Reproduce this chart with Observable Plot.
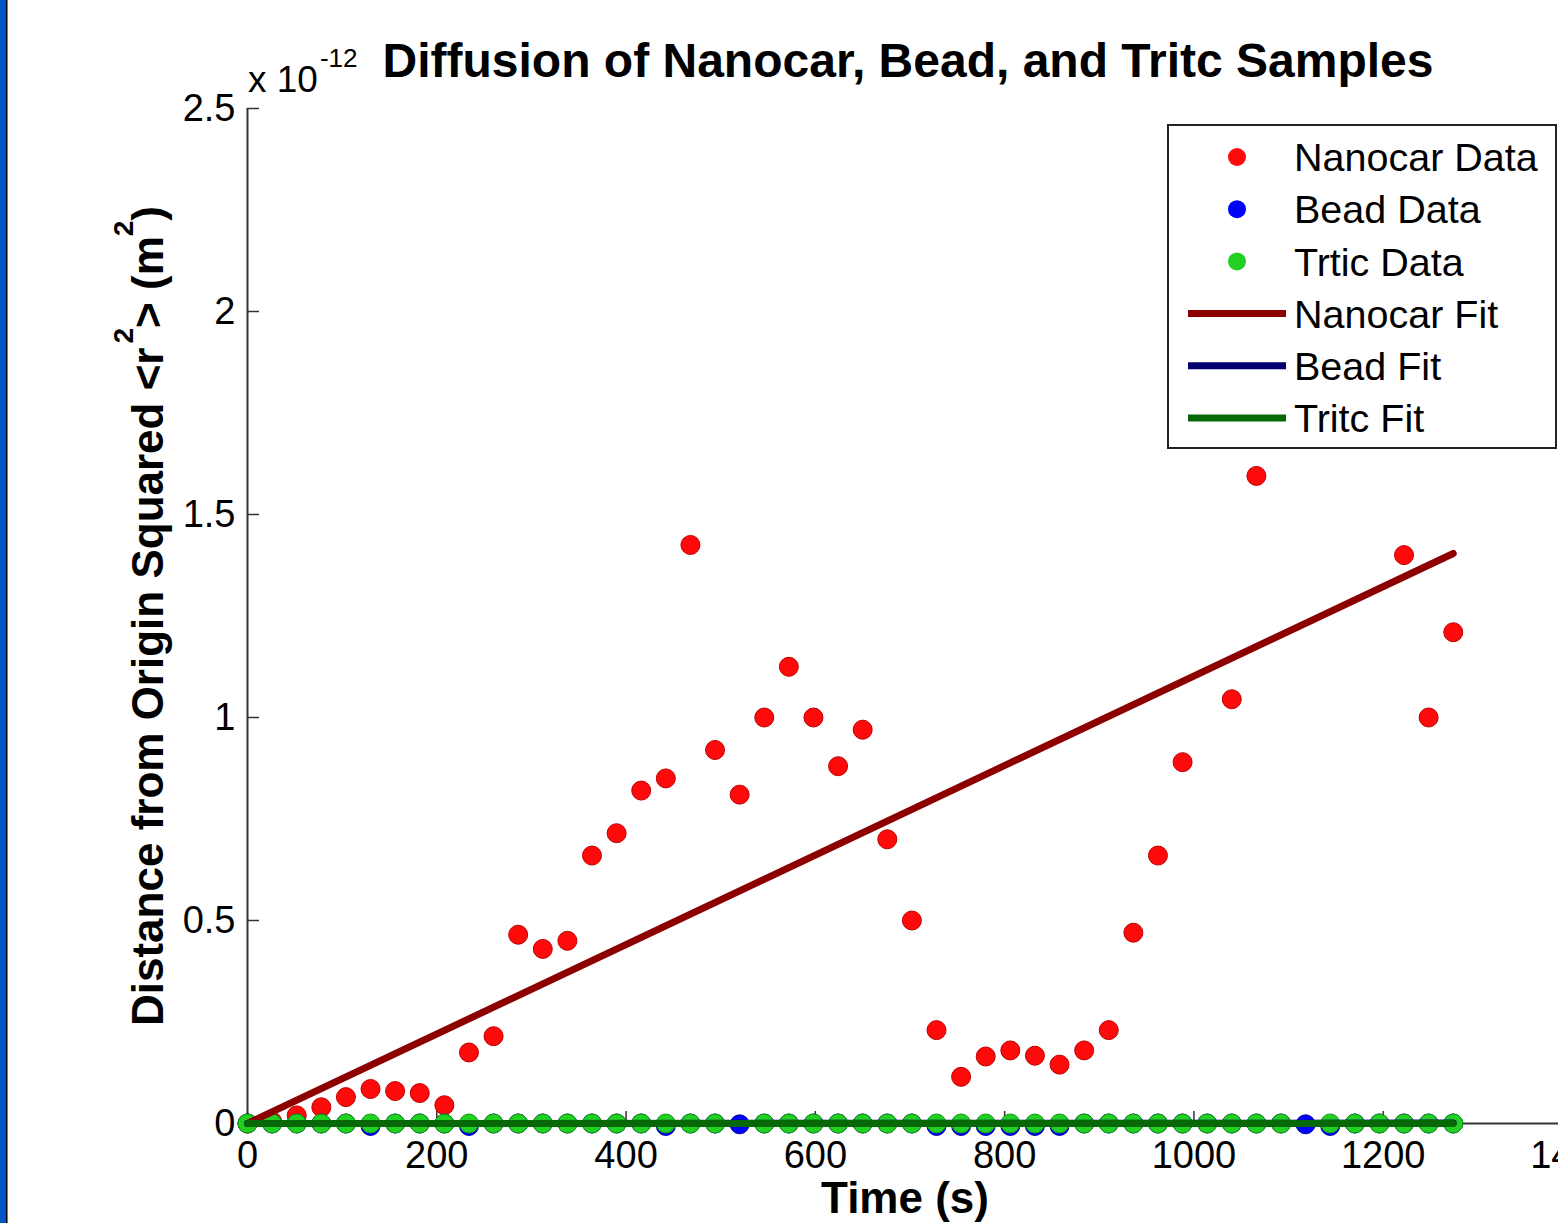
<!DOCTYPE html>
<html><head><meta charset="utf-8">
<script src="https://cdn.jsdelivr.net/npm/d3@7"></script>
<script src="https://cdn.jsdelivr.net/npm/@observablehq/plot@0.6"></script>
<style>
html,body{margin:0;padding:0;background:#fff;overflow:hidden;}
#chart svg{display:block;overflow:hidden;max-width:none;}
</style></head><body><div id="chart"></div>
<script>
// Time (s)
const times = [0,26,52,78,104,130,156,182,208,234,260,286,312,338,364,390,416,442,468,494,520,546,572,598,624,650,676,702,728,754,780,806,832,858,884,910,936,962,988,1014,1040,1066,1092,1118,1144,1170,1196,1222,1248,1274];
// <r^2> in units of 1e-12 m^2
const nanocarData = [0,0.005,0.02,0.04,0.065,0.085,0.08,0.075,0.045,0.175,0.215,0.465,0.43,0.45,0.66,0.715,0.82,0.85,1.425,0.92,0.81,1.0,1.125,1.0,0.88,0.97,0.70,0.50,0.23,0.115,0.165,0.18,0.167,0.145,0.18,0.23,0.47,0.66,0.89,1.9,1.045,1.595,2.1,2.3,2.0,1.8,2.2,1.40,1.0,1.21];
const beadData = [0,0,0,0,0,-0.006,0,0,0,-0.006,0,0,0,0,0,0,0,-0.006,0,0,-0.002,0,0,0,0,0,0,0,-0.006,-0.006,-0.006,-0.006,-0.006,-0.006,0,0,0,0,0,0,0,0,0,-0.002,-0.006,0,0,0,0,0];
const tritcData = [0,0,0,0,0,0,0,0,0,0,0,0,0,0,0,0,0,0,0,0,null,0,0,0,0,0,0,0,0,0,0,0,0,0,0,0,0,0,0,0,0,0,0,null,0,0,0,0,0,0];
const fitTimes = [0, 1274];
const nanocarFit = [0, 1.404];
const beadFit = [0, 0.001];
const tritcFit = [0, 0];
const xTicks = [0,200,400,600,800,1000,1200,1400];
const yTicks = [0,0.5,1,1.5,2,2.5];
const legendNames = ["Nanocar Data","Bead Data","Trtic Data","Nanocar Fit","Bead Fit","Tritc Fit"];
const legendKinds = ["dot","dot","dot","line","line","line"];
const colors = {nanocarDot:"#ff0a0a", beadDot:"#0000ff", tritcDot:"#22d022", nanocarFit:"#8c0000", beadFit:"#00006e", tritcFit:"#066806"};
const legendColors = [colors.nanocarDot, colors.beadDot, colors.tritcDot, colors.nanocarFit, colors.beadFit, colors.tritcFit];

const toRows = vals => times.map((t,i)=>({t, v: vals[i]})).filter(d=>d.v!=null);
const fitRows = vals => fitTimes.map((t,i)=>({t, v: vals[i]}));

const W=1558, H=1223, ML=247, MT=108, MB=100, MR=0;
const frameW = W-ML-MR, frameH = H-MT-MB;
const font = "'Liberation Sans', Arial, Helvetica, sans-serif";

const plot = Plot.plot({
  width: W, height: H, marginLeft: ML, marginTop: MT, marginBottom: MB, marginRight: MR,
  style: {fontFamily: font, fontSize: "38px", color: "#000", background: "transparent", overflow: "hidden"},
  x: {domain: [0,1400], range: [ML, 1572]},
  y: {domain: [0,2.5]},
  marks: [
    Plot.axisX({ticks: xTicks, tickSize: 0, tickPadding: 18, tickFormat: d=>String(d), label: null, fontSize: 38}),
    Plot.axisY({ticks: yTicks, tickSize: 0, tickPadding: 12, tickFormat: d=>String(d), label: null, fontSize: 38}),
    Plot.tickX(xTicks, {x: d=>d, insetTop: frameH-12, stroke: "#333", strokeWidth: 1.5}),
    Plot.tickY(yTicks, {y: d=>d, insetRight: frameW-12, stroke: "#333", strokeWidth: 1.5}),
    Plot.ruleX([0], {stroke: "#333", strokeWidth: 2}),
    Plot.ruleY([0], {stroke: "#333", strokeWidth: 2}),
    Plot.dot(toRows(nanocarData), {x: "t", y: "v", r: 9.5, fill: colors.nanocarDot, stroke: "#c00000", strokeWidth: 1}),
    Plot.dot(toRows(beadData), {x: "t", y: "v", r: 9.5, fill: colors.beadDot, stroke: "#0000a0", strokeWidth: 1}),
    Plot.dot(toRows(tritcData), {x: "t", y: "v", r: 9.5, fill: colors.tritcDot, stroke: "#109a10", strokeWidth: 1}),
    Plot.line(fitRows(nanocarFit), {x: "t", y: "v", stroke: colors.nanocarFit, strokeWidth: 7}),
    Plot.line(fitRows(beadFit), {x: "t", y: "v", stroke: colors.beadFit, strokeWidth: 7}),
    Plot.line(fitRows(tritcFit), {x: "t", y: "v", stroke: colors.tritcFit, strokeWidth: 7})
  ]
});
document.getElementById("chart").appendChild(plot);

const svg = d3.select(plot);
// left border strip
svg.append("rect").attr("x",0).attr("y",0).attr("width",6).attr("height",H).attr("fill","#0058c6");
svg.append("rect").attr("x",6).attr("y",0).attr("width",1.5).attr("height",H).attr("fill","#000");

// title
svg.append("text").attr("x",908).attr("y",77).attr("text-anchor","middle")
  .attr("font-family",font).attr("font-size",48).attr("font-weight","bold").attr("fill","#000")
  .text("Diffusion of Nanocar, Bead, and Tritc Samples");

// exponent
const m = svg.append("text").attr("x",248).attr("y",92).attr("text-anchor","start")
  .attr("font-family",font).attr("font-size",37).attr("fill","#000");
m.append("tspan").text("x 10");
m.append("tspan").attr("font-size",26).attr("dy",-25).attr("dx",2).text("-12");

// y label
const yl = svg.append("text").attr("transform","translate(163,616) rotate(-90)").attr("text-anchor","middle")
  .attr("font-family",font).attr("font-size",44).attr("font-weight","bold").attr("fill","#000");
yl.append("tspan").text("Distance from Origin Squared <r");
yl.append("tspan").attr("font-size",28).attr("dy",-30).attr("dx",4).text("2");
yl.append("tspan").attr("dy",30).text("> (m");
yl.append("tspan").attr("font-size",28).attr("dy",-30).text("2");
yl.append("tspan").attr("dy",30).text(")");

// x label
svg.append("text").attr("x",905).attr("y",1213).attr("text-anchor","middle")
  .attr("font-family",font).attr("font-size",44).attr("font-weight","bold").attr("fill","#000")
  .text("Time (s)");

// legend
const lg = svg.append("g");
lg.append("rect").attr("x",1168).attr("y",125).attr("width",388).attr("height",323)
  .attr("fill","#fff").attr("stroke","#222").attr("stroke-width",2);
const rowY = i => 157 + i*52.2;
legendNames.forEach((name,i)=>{
  const y = rowY(i);
  if (legendKinds[i]==="dot") {
    lg.append("circle").attr("cx",1237).attr("cy",y).attr("r",9).attr("fill",legendColors[i]);
  } else {
    lg.append("line").attr("x1",1188).attr("x2",1286).attr("y1",y).attr("y2",y)
      .attr("stroke",legendColors[i]).attr("stroke-width",7);
  }
  lg.append("text").attr("x",1294).attr("y",y).attr("dy","0.36em").attr("text-anchor","start")
    .attr("font-family",font).attr("font-size",39.5).attr("fill","#000").text(name);
});
</script></body></html>
